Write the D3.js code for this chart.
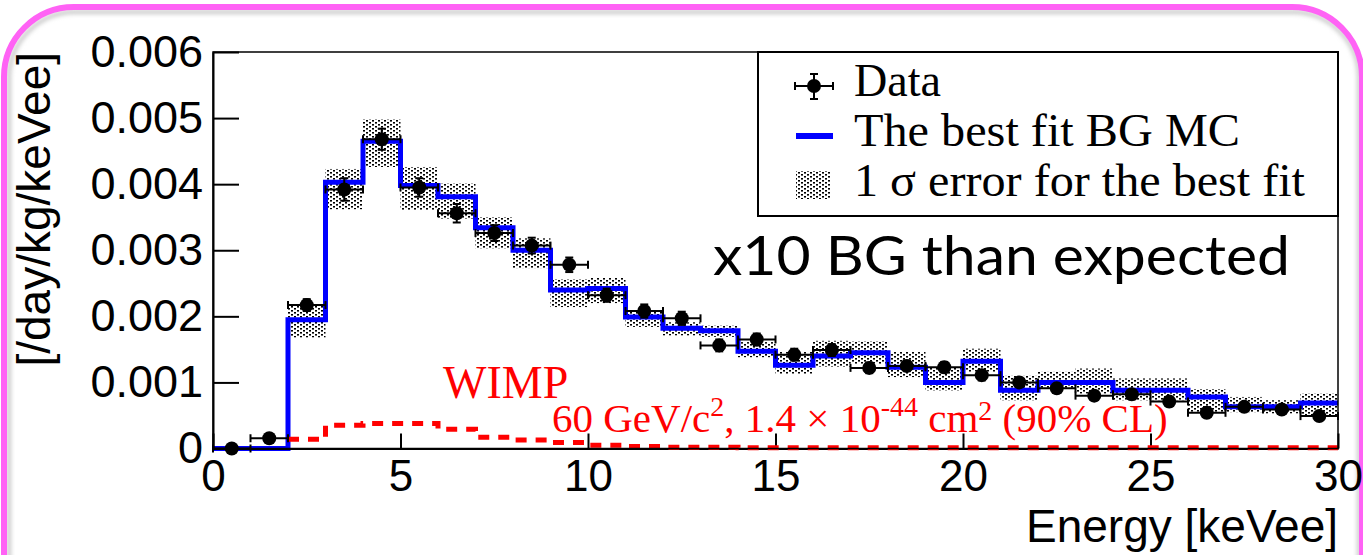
<!DOCTYPE html>
<html lang="en">

<head>
    <meta charset="UTF-8">
    <script src="https://d3js.org/d3.v7.min.js"></script>
    <style>
        body { margin: 0; background: #fff; }
        svg { display: block; }
    </style>
    <title>D3</title>
</head>

<body>
    <div class="canvas"></div>
    <script>
        // 1 keVee bins from 0 to 30
        const binEdges = d3.range(0, 31)
        const bgMC = [0, 0, 0.00195, 0.00403, 0.00465, 0.00398, 0.00381, 0.00334, 0.00300, 0.00240,
            0.00242, 0.00199, 0.00182, 0.00178, 0.00147, 0.00126, 0.00140, 0.00145, 0.00123, 0.00100,
            0.00132, 0.00088, 0.00100, 0.00100, 0.00088, 0.00088, 0.00078, 0.00063, 0.00063, 0.00069]
        const bandLow = [0, 0, 0.00168, 0.00362, 0.00426, 0.00361, 0.00348, 0.00303, 0.00273, 0.00214,
            0.00220, 0.00184, 0.00171, 0.00169, 0.00138, 0.00113, 0.00124, 0.00128, 0.00108, 0.00088,
            0.00116, 0.00073, 0.00090, 0.00083, 0.00073, 0.00073, 0.00055, 0.00055, 0.00053, 0.00050]
        const bandHigh = [0, 0, 0.00218, 0.00423, 0.00498, 0.00426, 0.00401, 0.00350, 0.00318, 0.00256,
            0.00258, 0.00209, 0.00191, 0.00186, 0.00161, 0.00146, 0.00163, 0.00162, 0.00146, 0.00123,
            0.00151, 0.00110, 0.00116, 0.00121, 0.00106, 0.00106, 0.00090, 0.00078, 0.00073, 0.00083]
        const wimp = [0, 0, 0.00014, 0.00035, 0.00038, 0.00038, 0.00029, 0.00017, 0.00013, 0.00009,
            0.00005, 0.00003, 0.00002, 0.00002, 0.00001, 0.00001, 0.00001, 0.00001, 0.00001, 0.00001,
            0.00001, 0.00001, 0.00001, 0.00001, 0.00001, 0.00001, 0.00001, 0.00001, 0.00001, 0.00001]
        const dataE = d3.range(0.5, 30, 1)
        const dataVal = [0, 0.000155, 0.00217, 0.00392, 0.00468, 0.00395, 0.00356, 0.00326, 0.00307, 0.00278,
            0.00232, 0.00208, 0.00197, 0.00156, 0.00165, 0.00142, 0.00149, 0.00122, 0.00125, 0.00123,
            0.00111, 0.00100, 0.00091, 0.00080, 0.00082, 0.00071, 0.00054, 0.00063, 0.00059, 0.00049]
        const dataErr = [0.00003, 0.00005, 0.00009, 0.00017, 0.00016, 0.00014, 0.00014, 0.00012, 0.00012, 0.00011,
            0.0001, 0.0001, 0.0001, 0.00009, 0.00009, 0.00009, 0.00009, 0.00008, 0.00008, 0.00008,
            0.00008, 0.00007, 0.00007, 0.00007, 0.00007, 0.00007, 0.00006, 0.00006, 0.00006, 0.00006]
        const xTicks = [0, 5, 10, 15, 20, 25, 30]
        const yTicks = [0, 0.001, 0.002, 0.003, 0.004, 0.005, 0.006]

        const areaWidth = 1363
        const areaHeight = 555
        const svg = d3.select('.canvas')
            .append('svg')
            .attr('width', areaWidth)
            .attr('height', areaHeight)

        const defs = svg.append('defs')
        const pat = defs.append('pattern')
            .attr('id', 'stipple')
            .attr('width', 6).attr('height', 4)
            .attr('patternUnits', 'userSpaceOnUse')
        pat.append('rect').attr('x', 0).attr('y', 0).attr('width', 2).attr('height', 1.6).attr('fill', '#000')
        pat.append('rect').attr('x', 3).attr('y', 2).attr('width', 2).attr('height', 1.6).attr('fill', '#000')
        defs.append('filter').attr('id', 'soft')
            .append('feGaussianBlur').attr('stdDeviation', 2)

        // slide frame
        svg.append('rect')
            .attr('x', 9).attr('y', 12).attr('width', 1350).attr('height', 700).attr('rx', 66)
            .attr('fill', 'none').attr('stroke', '#c8c8c8').attr('stroke-width', 4)
            .attr('filter', 'url(#soft)')
        svg.append('rect')
            .attr('x', 4).attr('y', 7).attr('width', 1358).attr('height', 700).attr('rx', 70)
            .attr('fill', 'none').attr('stroke', '#ff62f5').attr('stroke-width', 6)

        const [ml, mr, mt, mb] = [213, 1338, 52, 448.5]
        const x = d3.scaleLinear().domain([0, 30]).range([ml, mr])
        const y = d3.scaleLinear().domain([0, 0.006]).range([mb, mt])

        const bins = bgMC.map((v, i) => ({ x0: binEdges[i], x1: binEdges[i + 1], v, lo: bandLow[i], hi: bandHigh[i], w: wimp[i] }))

        svg.append('g').selectAll('rect')
            .data(bins.filter(d => d.hi > 0))
            .enter()
            .append('rect')
            .attr('x', d => x(d.x0))
            .attr('y', d => y(d.hi))
            .attr('width', d => x(d.x1) - x(d.x0))
            .attr('height', d => y(d.lo) - y(d.hi))
            .attr('fill', 'url(#stipple)')

        const stepLine = (arr, start) => {
            const pts = []
            arr.forEach((v, i) => {
                if (i < start) return
                pts.push([x(binEdges[i]), y(v)])
                pts.push([x(binEdges[i + 1]), y(v)])
            })
            return d3.line()(pts)
        }

        svg.append('path')
            .attr('d', stepLine(bgMC, 0))
            .attr('fill', 'none')
            .attr('stroke', '#0000ff')
            .attr('stroke-width', 5)

        // axes
        const yAxisG = svg.append('g').attr('transform', `translate(${ml},0)`)
        yAxisG.call(d3.axisLeft(y).tickValues(d3.range(0, 0.00601, 0.0002)).tickSize(-13).tickFormat(''))
        yAxisG.call(d3.axisLeft(y).tickValues(yTicks).tickSize(-26).tickSizeOuter(0).tickPadding(10)
            .tickFormat(d => d === 0 ? '0' : d.toFixed(3)))
        yAxisG.selectAll('line').attr('stroke', '#000').attr('stroke-width', 2)
        yAxisG.selectAll('path').attr('stroke-width', 2)
        yAxisG.selectAll('text')
            .attr('font-family', 'Liberation Sans, Arial, sans-serif')
            .attr('font-size', 45)
            .attr('fill', '#000')

        const xAxisG = svg.append('g').attr('transform', `translate(0,${mb})`)
        xAxisG.call(d3.axisBottom(x).tickValues(d3.range(0, 31, 1)).tickSize(-8).tickFormat(''))
        xAxisG.call(d3.axisBottom(x).tickValues(xTicks).tickSize(-15).tickSizeOuter(0).tickPadding(11))
        xAxisG.selectAll('line').attr('stroke', '#000').attr('stroke-width', 2)
        xAxisG.selectAll('path').attr('stroke-width', 2)
        xAxisG.selectAll('text')
            .attr('font-family', 'Liberation Sans, Arial, sans-serif')
            .attr('font-size', 44)
            .attr('fill', '#000')

        svg.append('path')
            .attr('d', stepLine(wimp, 2))
            .attr('fill', 'none')
            .attr('stroke', '#ff0000')
            .attr('stroke-width', 5)
            .attr('stroke-dasharray', '11,9')

        svg.append('rect')
            .attr('x', ml).attr('y', mt).attr('width', mr - ml).attr('height', mb - mt)
            .attr('fill', 'none').attr('stroke', '#000').attr('stroke-width', 1.5)

        // data points
        const pts = svg.append('g').attr('stroke', '#000').attr('stroke-width', 2)
        dataE.forEach((e, i) => {
            const cx = x(e), cy = y(dataVal[i])
            const xl = x(e - 0.5), xr = x(e + 0.5)
            const yt = y(dataVal[i] + dataErr[i]), yb = y(dataVal[i] - dataErr[i])
            pts.append('line').attr('x1', xl).attr('x2', xr).attr('y1', cy).attr('y2', cy)
            pts.append('line').attr('x1', xl).attr('x2', xl).attr('y1', cy - 4).attr('y2', cy + 4)
            pts.append('line').attr('x1', xr).attr('x2', xr).attr('y1', cy - 4).attr('y2', cy + 4)
            pts.append('line').attr('x1', cx).attr('x2', cx).attr('y1', yt).attr('y2', yb)
            pts.append('line').attr('x1', cx - 4).attr('x2', cx + 4).attr('y1', yt).attr('y2', yt)
            pts.append('line').attr('x1', cx - 4).attr('x2', cx + 4).attr('y1', yb).attr('y2', yb)
            pts.append('circle').attr('cx', cx).attr('cy', cy).attr('r', 7).attr('fill', '#000').attr('stroke', 'none')
        })

        // axis titles
        svg.append('text')
            .attr('transform', 'translate(50,52) rotate(-90)')
            .attr('text-anchor', 'end')
            .attr('font-family', 'Liberation Sans, Arial, sans-serif')
            .attr('font-size', 46)
            .text('[/day/kg/keVee]')
        svg.append('text')
            .attr('x', mr).attr('y', 542)
            .attr('text-anchor', 'end')
            .attr('font-family', 'Liberation Sans, Arial, sans-serif')
            .attr('font-size', 46)
            .text('Energy [keVee]')

        // legend
        const leg = svg.append('g')
        leg.append('rect')
            .attr('x', 758).attr('y', mt).attr('width', mr - 758).attr('height', 164)
            .attr('fill', '#fff').attr('stroke', '#000').attr('stroke-width', 2)
        const lg = leg.append('g').attr('stroke', '#000').attr('stroke-width', 2)
        lg.append('line').attr('x1', 795).attr('x2', 833).attr('y1', 86).attr('y2', 86)
        lg.append('line').attr('x1', 795).attr('x2', 795).attr('y1', 82).attr('y2', 90)
        lg.append('line').attr('x1', 833).attr('x2', 833).attr('y1', 82).attr('y2', 90)
        lg.append('line').attr('x1', 814).attr('x2', 814).attr('y1', 74).attr('y2', 99)
        lg.append('line').attr('x1', 810).attr('x2', 818).attr('y1', 74).attr('y2', 74)
        lg.append('line').attr('x1', 810).attr('x2', 818).attr('y1', 99).attr('y2', 99)
        lg.append('circle').attr('cx', 814).attr('cy', 86).attr('r', 7).attr('fill', '#000').attr('stroke', 'none')
        leg.append('line').attr('x1', 796).attr('x2', 833).attr('y1', 136).attr('y2', 136)
            .attr('stroke', '#0000ff').attr('stroke-width', 6)
        leg.append('rect').attr('x', 796).attr('y', 171).attr('width', 34).attr('height', 28)
            .attr('fill', 'url(#stipple)')
        const legText = ['Data', 'The best fit BG MC', '1 σ error for the best fit']
        const legWidth = [87, 386, 451]
        leg.selectAll('text.l').data(legText).enter()
            .append('text')
            .attr('x', 854)
            .attr('y', (d, i) => 96 + i * 50)
            .attr('font-family', 'Liberation Serif, Times New Roman, serif')
            .attr('font-size', 46)
            .attr('textLength', (d, i) => legWidth[i])
            .attr('lengthAdjust', 'spacingAndGlyphs')
            .text(d => d)

        svg.append('text')
            .attr('x', 713).attr('y', 275)
            .attr('font-family', 'Lato, sans-serif')
            .attr('font-size', 54)
            .attr('textLength', 577)
            .attr('lengthAdjust', 'spacingAndGlyphs')
            .text('x10 BG than expected')

        // WIMP annotation
        svg.append('text')
            .attr('x', 443).attr('y', 398)
            .attr('fill', '#ff0000')
            .attr('font-family', 'Liberation Serif, Times New Roman, serif')
            .attr('font-size', 46)
            .text('WIMP')
        const wt = svg.append('text')
            .attr('x', 552).attr('y', 432)
            .attr('fill', '#ff0000')
            .attr('font-family', 'Liberation Serif, Times New Roman, serif')
            .attr('font-size', 41)
        wt.append('tspan').text('60 GeV/c')
        wt.append('tspan').attr('dy', -16).attr('font-size', 28).text('2')
        wt.append('tspan').attr('dy', 16).text(', 1.4 × 10')
        wt.append('tspan').attr('dy', -16).attr('font-size', 28).text('-44')
        wt.append('tspan').attr('dy', 16).text(' cm')
        wt.append('tspan').attr('dy', -12).attr('font-size', 28).text('2')
        wt.append('tspan').attr('dy', 12).text(' (90% CL)')
    </script>

</body>

</html>
